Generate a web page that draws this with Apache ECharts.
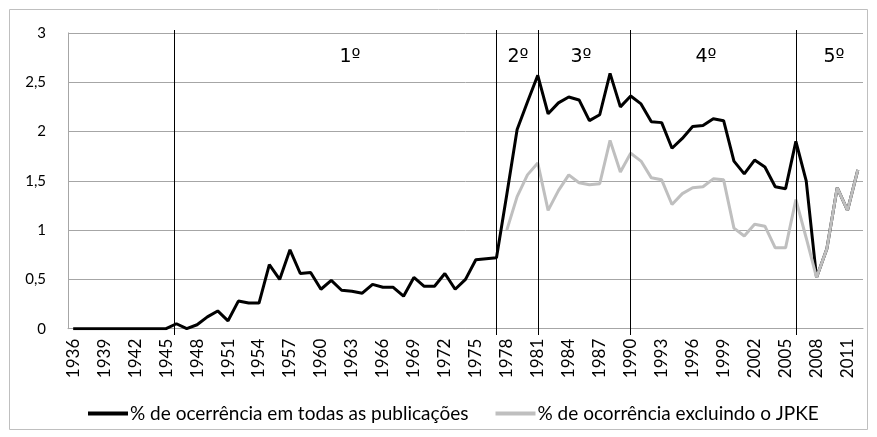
<!DOCTYPE html>
<html>
<head>
<meta charset="utf-8">
<script src="https://cdn.jsdelivr.net/npm/echarts@6/dist/echarts.min.js"></script>
<style>html,body{margin:0;padding:0;background:#fff}#c{width:877px;height:437px}</style>
</head>
<body>
<div id="c"></div>
<script>
const years = ['1936','1937','1938','1939','1940','1941','1942','1943','1944','1945',
'1946','1947','1948','1949','1950','1951','1952','1953','1954','1955',
'1956','1957','1958','1959','1960','1961','1962','1963','1964','1965',
'1966','1967','1968','1969','1970','1971','1972','1973','1974','1975',
'1976','1977','1978','1979','1980','1981','1982','1983','1984','1985',
'1986','1987','1988','1989','1990','1991','1992','1993','1994','1995',
'1996','1997','1998','1999','2000','2001','2002','2003','2004','2005',
'2006','2007','2008','2009','2010','2011','2012'];

const totalValues = [0,0,0,0,0,0,0,0,0,0,
0.05,0.00,0.04,0.12,0.18,0.08,0.28,0.26,0.26,0.65,
0.50,0.80,0.56,0.57,0.40,0.49,0.39,0.38,0.36,0.45,
0.42,0.42,0.33,0.52,0.43,0.43,0.56,0.40,0.50,0.70,
0.71,0.72,1.36,2.02,2.30,2.57,2.18,2.29,2.35,2.32,
2.11,2.17,2.59,2.25,2.36,2.28,2.10,2.09,1.83,1.93,
2.05,2.06,2.13,2.11,1.70,1.57,1.71,1.64,1.44,1.42,
1.90,1.50,0.52,0.81,1.43,1.20,1.61];

const exclValues = [null,null,null,null,null,null,null,null,null,null,
null,null,null,null,null,null,null,null,null,null,
null,null,null,null,null,null,null,null,null,null,
null,null,null,null,null,null,null,null,null,null,
null,null,1.00,1.34,1.56,1.68,1.20,1.40,1.56,1.48,
1.46,1.47,1.91,1.59,1.78,1.70,1.53,1.51,1.26,1.37,
1.43,1.44,1.52,1.51,1.02,0.94,1.06,1.04,0.82,0.82,
1.31,0.92,0.52,0.81,1.43,1.20,1.61];

const seriesNames = ['% de ocerrência em todas as publicações', '% de ocorrência excluindo o JPKE'];
const dividerYears = [1945.75, 1977, 1981, 1990, 2006];
const periodLabels = ['1º','2º','3º','4º','5º'];

const FONT = 'Lato';
const chart = echarts.init(document.getElementById('c'), null, {renderer: 'canvas'});
const periodX = [350, 518, 581, 706, 834];

chart.setOption({
  animation: false,
  backgroundColor: '#fff',
  textStyle: {fontFamily: FONT},
  graphic: [
    {type: 'rect', shape: {x: 9.5, y: 9.5, width: 858, height: 420}, style: {fill: 'none', stroke: '#bfbfbf', lineWidth: 1}, z: 0},
  ].concat(periodLabels.map((t, i) => ({
    type: 'text', x: periodX[i], y: 57,
    style: {text: t, fontSize: 19, fontFamily: 'DejaVu Sans', fill: '#000', align: 'center', verticalAlign: 'middle'}, z: 10
  }))),
  grid: [
    {left: 68, right: 14, top: 32.9, bottom: 108.3, containLabel: false},
    {left: 68, right: 14, top: 30, bottom: 102, containLabel: false}
  ],
  legend: {
    data: seriesNames,
    left: 83, top: 399,
    itemWidth: 40, itemHeight: 4, itemGap: 27, icon: 'rect',
    textStyle: {fontFamily: FONT, fontSize: 19, color: '#000', padding: [0, 0, 0, -3]}
  },
  xAxis: [
    {
      type: 'category', data: years, boundaryGap: true, gridIndex: 0,
      axisLine: {lineStyle: {color: '#a6a6a6', width: 1}},
      axisTick: {show: false},
      axisLabel: {interval: 2, rotate: 90, margin: 10, fontFamily: FONT, fontSize: 17, color: '#000'},
      splitLine: {show: false}
    },
    {type: 'value', gridIndex: 1, min: 1935.5, max: 2012.5, show: false, splitLine: {show: false}}
  ],
  yAxis: [
    {
      type: 'value', gridIndex: 0, min: 0, max: 3, interval: 0.5,
      axisLine: {show: true, lineStyle: {color: '#a6a6a6', width: 1}},
      axisTick: {show: false},
      axisLabel: {margin: 22, fontFamily: FONT, fontSize: 15, color: '#000', formatter: v => String(v).replace('.', ',')},
      splitLine: {show: true, lineStyle: {color: '#a6a6a6', width: 1}}
    },
    {type: 'value', gridIndex: 1, min: 0, max: 1, show: false, splitLine: {show: false}}
  ],
  series: [
    {
      name: seriesNames[0], type: 'line', data: totalValues, xAxisIndex: 0, yAxisIndex: 0,
      showSymbol: false, symbol: 'none', lineStyle: {color: '#000', width: 3}, itemStyle: {color: '#000'}, z: 3
    },
    {
      name: seriesNames[1], type: 'line', data: exclValues, xAxisIndex: 0, yAxisIndex: 0,
      showSymbol: false, symbol: 'none', lineStyle: {color: '#bfbfbf', width: 3}, itemStyle: {color: '#bfbfbf'}, z: 4
    },
    {
      name: 'dividers', type: 'line', data: [], xAxisIndex: 1, yAxisIndex: 1, silent: true, z: 5,
      markLine: {
        silent: true, symbol: 'none', animation: false,
        label: {show: false},
        lineStyle: {color: '#000', width: 1, type: 'solid'},
        data: dividerYears.map(y => ({xAxis: y}))
      }
    }
  ]
});
</script>
</body>
</html>
